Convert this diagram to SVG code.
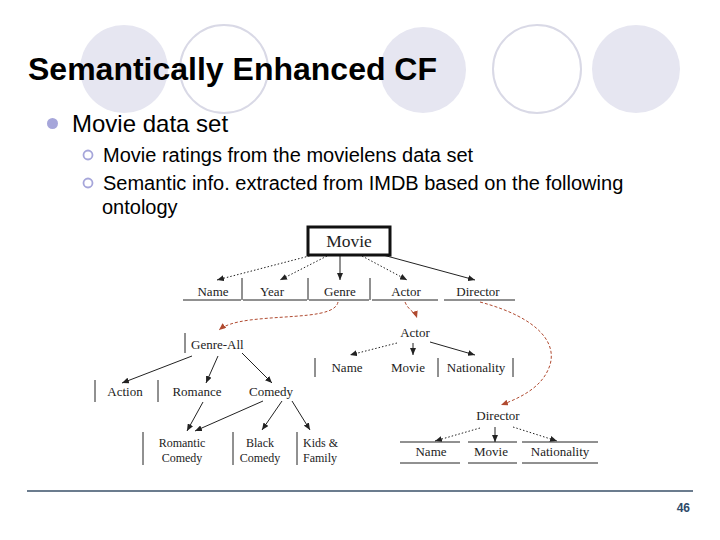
<svg xmlns="http://www.w3.org/2000/svg" width="720" height="540" viewBox="0 0 720 540">
<defs>
<marker id="ah" markerWidth="7" markerHeight="6" refX="7" refY="3" orient="auto" markerUnits="userSpaceOnUse"><path d="M0,0 L7,3 L0,6 z" fill="#222"/></marker>
<marker id="rh" markerWidth="7" markerHeight="6" refX="7" refY="3" orient="auto" markerUnits="userSpaceOnUse"><path d="M0,0 L7,3 L0,6 z" fill="#b04a30"/></marker>
<style>
.bgf{fill:#e6e6f1;}
.bgo{fill:none;stroke:#d9d9e6;stroke-width:2;}
.title{font-family:"Liberation Sans",Arial,sans-serif;font-weight:bold;font-size:32px;fill:#000;}
.l1{font-family:"Liberation Sans",Arial,sans-serif;font-size:24px;fill:#000;}
.l2{font-family:"Liberation Sans",Arial,sans-serif;font-size:20px;fill:#000;}
.t{font-family:"Liberation Serif","Times New Roman",serif;font-size:13px;fill:#222;text-anchor:middle;}
.ts{font-family:"Liberation Serif","Times New Roman",serif;font-size:12px;fill:#222;text-anchor:middle;}
.ln{stroke:#222;stroke-width:1;fill:none;}
.sol{stroke:#222;stroke-width:1;fill:none;marker-end:url(#ah);}
.dot{stroke:#222;stroke-width:1;fill:none;stroke-dasharray:1.5,2;marker-end:url(#ah);}
.red{stroke:#b04a30;stroke-width:1;fill:none;stroke-dasharray:3,2;marker-end:url(#rh);}
</style>
</defs>
<rect width="720" height="540" fill="#fff"/>
<g id="background">
<circle class="bgf" cx="124" cy="69" r="44"/>
<circle class="bgo" cx="224" cy="69" r="44"/>
<circle class="bgf" cx="423" cy="70" r="43"/>
<circle class="bgo" cx="537" cy="69" r="44"/>
<circle class="bgf" cx="636" cy="69" r="44"/>
</g>
<g id="text">
<text class="title" x="28" y="80">Semantically Enhanced CF</text>
<circle cx="52.5" cy="123.5" r="5.5" fill="#a6a6da"/>
<text class="l1" x="72" y="132">Movie data set</text>
<circle cx="88" cy="155" r="4.5" fill="none" stroke="#a6a6da" stroke-width="1.8"/>
<text class="l2" x="103" y="162">Movie ratings from the movielens data set</text>
<circle cx="88" cy="183" r="4.5" fill="none" stroke="#a6a6da" stroke-width="1.8"/>
<text class="l2" x="103" y="190">Semantic info. extracted from IMDB based on the following</text>
<text class="l2" x="102" y="214">ontology</text>
</g>
<g id="connectors">
<path class="dot" d="M313,255 L217,280"/>
<path class="dot" d="M327,256 L280,280"/>
<path class="sol" d="M340,256 L340,280"/>
<path class="dot" d="M362,256 L407,280"/>
<path class="sol" d="M383,255 L475,280"/>
<path class="red" d="M338,302 C335,318 290,315 250,320 C235,322 225,325 219,330"/>
<path class="red" d="M405,302 C408,310 415,312 417,318"/>
<path class="red" d="M480,302 C540,318 560,345 548,370 C540,388 520,398 501,405"/>
<path class="sol" d="M192,356 L122,383"/>
<path class="sol" d="M218,356 L206,383"/>
<path class="sol" d="M242,353 L272,383"/>
<path class="sol" d="M203,402 L187,431"/>
<path class="sol" d="M263,401 L195,431"/>
<path class="sol" d="M282,401 L262,430"/>
<path class="sol" d="M292,401 L310,430"/>
<path class="dot" d="M397,343 L350,355"/>
<path class="sol" d="M413,343 L413,355"/>
<path class="sol" d="M430,342 L475,355"/>
<path class="dot" d="M480,428 L435,441"/>
<path class="sol" d="M495,427 L495,442"/>
<path class="dot" d="M513,427 L557,441"/>
</g>
<g id="movie">
<rect x="308" y="227" width="82" height="28" fill="#fff" stroke="#111" stroke-width="3"/>
<text class="t" x="349" y="247" style="font-size:17.5px">Movie</text>
</g>
<g id="row1">
<path class="ln" d="M183,300 H241 M243,300 H307 M309,300 H369 M372,300 H438 M444,300 H515 M242,278 V300 M308,278 V300 M370,278 V300"/>
<text class="t" x="213" y="296">Name</text>
<text class="t" x="272" y="296">Year</text>
<text class="t" x="340" y="296">Genre</text>
<text class="t" x="406" y="296">Actor</text>
<text class="t" x="478" y="296">Director</text>
</g>
<g id="genre-all">
<path class="ln" d="M185,333 V353"/>
<text class="t" x="191" y="349" style="text-anchor:start">Genre-All</text>
</g>
<g id="genres">
<path class="ln" d="M95,380 V402 M158,380 V402"/>
<text class="t" x="125" y="396">Action</text>
<text class="t" x="197" y="396">Romance</text>
<text class="t" x="271" y="396">Comedy</text>
</g>
<g id="subgenres">
<path class="ln" d="M143,432 V465 M233,432 V465 M297,432 V465"/>
<text class="ts" x="182" y="447">Romantic</text>
<text class="ts" x="182" y="462">Comedy</text>
<text class="ts" x="260" y="447">Black</text>
<text class="ts" x="260" y="462">Comedy</text>
<text class="ts" x="303" y="447" style="text-anchor:start">Kids &amp;</text>
<text class="ts" x="303" y="462" style="text-anchor:start">Family</text>
</g>
<g id="actor">
<text class="t" x="415" y="337">Actor</text>
<path class="ln" d="M315,358 V377 M438,358 V377 M513,358 V377"/>
<text class="t" x="347" y="372">Name</text>
<text class="t" x="408" y="372">Movie</text>
<text class="t" x="476" y="372">Nationality</text>
</g>
<g id="director">
<text class="t" x="498" y="420">Director</text>
<path class="ln" d="M400,442 H460 M468,442 H517 M522,442 H598 M400,463 H460 M468,463 H517 M522,463 H598"/>
<text class="t" x="431" y="456">Name</text>
<text class="t" x="491" y="456">Movie</text>
<text class="t" x="560" y="456">Nationality</text>
</g>
<g id="footer">
<line x1="27" y1="491" x2="693" y2="491" stroke="#3a5068" stroke-width="1.5"/>
<text x="690" y="512" text-anchor="end" style="font-family:'Liberation Sans',Arial,sans-serif;font-weight:bold;font-size:12px;fill:#2e4a6a">46</text>
</g>
</svg>
